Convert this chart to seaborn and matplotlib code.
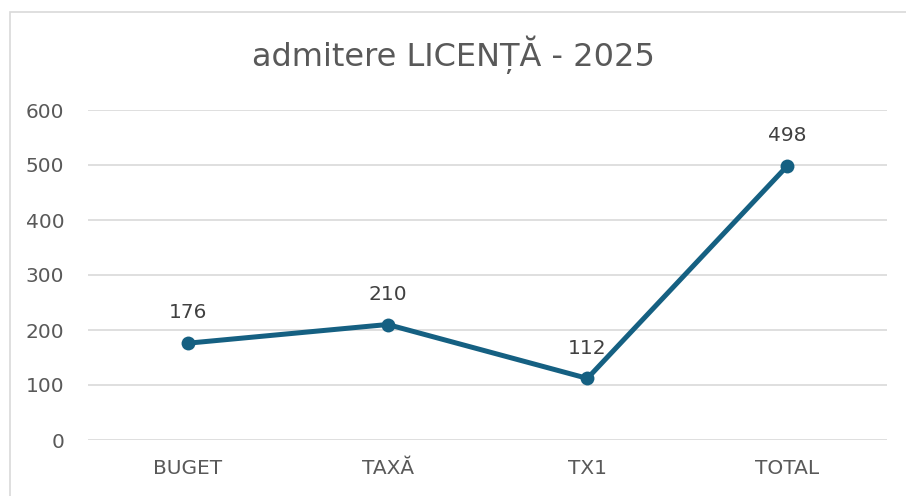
import pandas as pd
import seaborn as sns
import matplotlib.pyplot as plt
from matplotlib.patches import Rectangle

categories = ['BUGET', 'TAXĂ', 'TX1', 'TOTAL']
values = [176, 210, 112, 498]
y_ticks = [0, 100, 200, 300, 400, 500, 600]

line_color = '#156082'
text_gray = '#595959'


def run():
    df = pd.DataFrame({'cat': categories, 'val': values})

    sns.set_style('white')
    plt.rcParams['font.family'] = ['DejaVu Sans']

    fig = plt.figure(figsize=(9.06, 4.96), dpi=100)
    ax = fig.add_axes([88 / 906, 56 / 496, 799 / 906, 330 / 496])

    # chart frame like the office chart area
    fig.patches.append(Rectangle((10 / 906, -0.1), 1.0, (496 - 12) / 496 + 0.1,
                                 transform=fig.transFigure, fill=False,
                                 edgecolor='#d9d9d9', linewidth=1.2))

    sns.lineplot(data=df, x='cat', y='val', color=line_color, linewidth=3.6,
                 marker='o', markersize=10, markeredgewidth=0, sort=False, ax=ax)

    for i, v in enumerate(values):
        ax.annotate(str(v), (i, v), xytext=(0, 15), textcoords='offset points',
                    ha='center', va='bottom', fontsize=14.5, color='#404040')

    ax.set_xlim(-0.5, len(categories) - 0.5)
    ax.set_ylim(0, 600)
    ax.set_yticks(y_ticks)
    ax.yaxis.grid(True, color='#d9d9d9', linewidth=1.2)
    ax.set_axisbelow(True)
    for s in ax.spines.values():
        s.set_visible(False)
    ax.tick_params(axis='both', length=0, labelsize=14.5, labelcolor=text_gray)
    ax.tick_params(axis='x', pad=14)
    ax.tick_params(axis='y', pad=17)
    ax.set_xlabel('')
    ax.set_ylabel('')

    fig.text(0.5, 1 - 55 / 496, 'admitere LICENȚĂ - 2025', ha='center',
             va='center', fontsize=23, color=text_gray)

    fig.savefig('out.png', dpi=100)


if __name__ == '__main__':
    run()
